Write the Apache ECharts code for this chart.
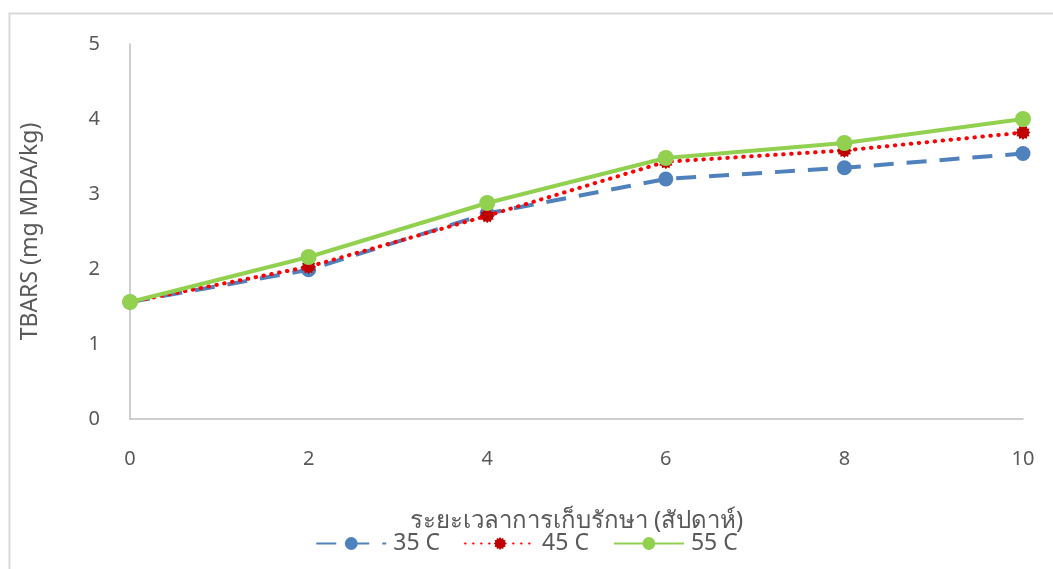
<!DOCTYPE html>
<html>
<head>
<meta charset="utf-8">
<script src="https://cdn.jsdelivr.net/npm/echarts@6/dist/echarts.min.js"></script>
<style>
  html, body { margin: 0; padding: 0; background: #fff; }
  #chart { width: 1053px; height: 569px; }
</style>
</head>
<body>
<div id="chart"></div>
<script>
// Storage time in weeks
const weeks = [0, 2, 4, 6, 8, 10];
// TBARS values (mg MDA/kg) per storage temperature
const tbars35 = [1.56, 1.99, 2.74, 3.20, 3.35, 3.54];
const tbars45 = [1.56, 2.03, 2.71, 3.43, 3.58, 3.82];
const tbars55 = [1.56, 2.16, 2.88, 3.48, 3.68, 4.00];
const seriesNames = ['35 C', '45 C', '55 C'];
const xTitle = 'ระยะเวลาการเก็บรักษา (สัปดาห์)';
const yTitle = 'TBARS (mg MDA/kg)';

const FONT = '"Noto Sans", "Open Sans", "DejaVu Sans", sans-serif';
const TEXT = '#595959';
const AXIS = '#BFBFBF';

// spiky round marker
function spikyPath(n, rOut, rIn) {
  let d = '';
  for (let i = 0; i < n * 2; i++) {
    const r = i % 2 === 0 ? rOut : rIn;
    const a = Math.PI * i / n;
    const x = (Math.cos(a) * r).toFixed(3);
    const y = (Math.sin(a) * r).toFixed(3);
    d += (i === 0 ? 'M' : 'L') + x + ',' + y;
  }
  return 'path://' + d + 'Z';
}

const pairs = vals => weeks.map((w, i) => [w, vals[i]]);

const chart = echarts.init(document.getElementById('chart'));
chart.setOption({
  animation: false,
  backgroundColor: '#fff',
  textStyle: { fontFamily: FONT },
  graphic: [{
    type: 'polyline',
    silent: true,
    shape: { points: [[9.5, 569], [9.5, 13.5], [1053, 13.5]] },
    style: { stroke: '#D9D9D9', lineWidth: 2, fill: null }
  }],
  grid: { left: 130, right: 30, top: 44, bottom: 150 },
  legend: {
    bottom: 9,
    left: 'center',
    itemWidth: 70,
    itemHeight: 16,
    itemGap: 24,
    textStyle: { color: TEXT, fontSize: 23, fontFamily: FONT, padding: [0, 0, 0, 2] },
    data: seriesNames
  },
  xAxis: {
    type: 'value',
    min: 0, max: 10, interval: 2,
    name: xTitle,
    nameLocation: 'middle',
    nameGap: 90,
    nameTextStyle: { color: TEXT, fontSize: 24, fontFamily: FONT },
    axisLine: { show: true, lineStyle: { color: AXIS, width: 1.5 } },
    axisTick: { show: false },
    splitLine: { show: false },
    axisLabel: { color: TEXT, fontSize: 20, margin: 30, fontFamily: FONT }
  },
  yAxis: {
    type: 'value',
    min: 0, max: 5, interval: 1,
    name: yTitle,
    nameLocation: 'middle',
    nameGap: 88,
    nameTextStyle: { color: TEXT, fontSize: 23, fontFamily: FONT },
    axisLine: { show: true, lineStyle: { color: AXIS, width: 1.5 } },
    axisTick: { show: false },
    splitLine: { show: false },
    axisLabel: { color: TEXT, fontSize: 20, margin: 30, fontFamily: FONT }
  },
  series: [
    {
      name: seriesNames[0],
      type: 'line',
      data: pairs(tbars35),
      symbol: 'circle',
      symbolSize: 15,
      lineStyle: { color: '#4F81BD', width: 4, type: [20, 13] },
      itemStyle: { color: '#4F81BD' },
      z: 2
    },
    {
      name: seriesNames[1],
      type: 'line',
      data: pairs(tbars45),
      symbol: spikyPath(12, 8, 6.2),
      symbolSize: 15,
      lineStyle: { color: '#FF0000', width: 4, type: [0.5, 7.5], cap: 'round' },
      itemStyle: { color: '#C00000' },
      z: 3
    },
    {
      name: seriesNames[2],
      type: 'line',
      data: pairs(tbars55),
      symbol: 'circle',
      symbolSize: 16,
      lineStyle: { color: '#92D050', width: 4 },
      itemStyle: { color: '#92D050' },
      z: 4
    }
  ]
});
</script>
</body>
</html>
